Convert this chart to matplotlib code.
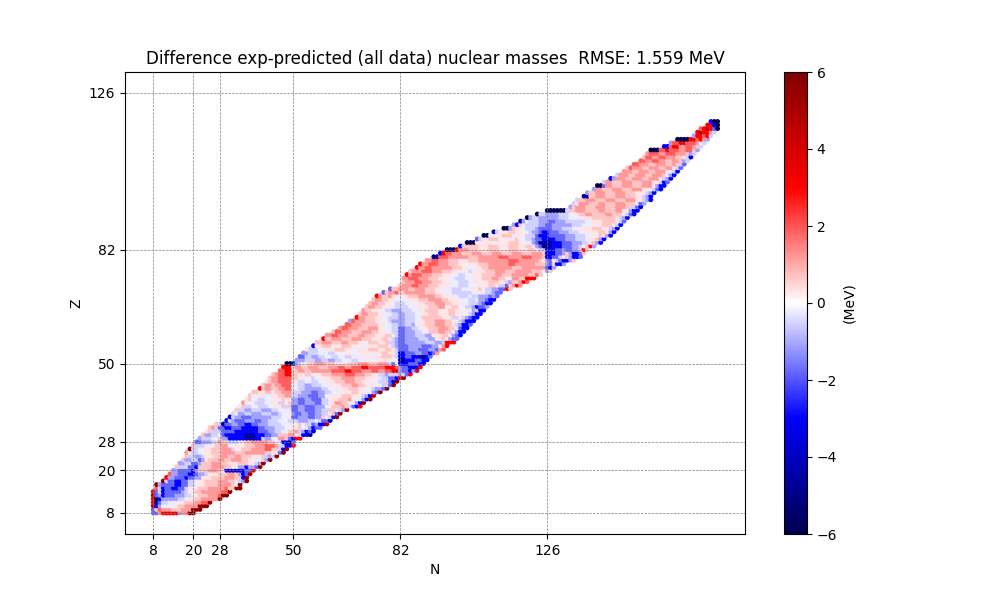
import re
import matplotlib
matplotlib.use("Agg")
import matplotlib.pyplot as plt
import numpy as np

# --- DATA, one row per Z ---
magic = [8, 20, 28, 50, 82, 126]
rmse = 1.559

# colour classes in MeV, a row is written as class + run length
levels = {"A": -6.0, "B": -4.6, "C": -3.0, "D": -1.8, "E": -1.1, "F": -0.55, "G": -0.2, "o": 0.0,
          "g": 0.3, "f": 0.7, "e": 1.2, "d": 1.9, "c": 3.0, "b": 4.6, "a": 5.6}

z_first = 8
n_start = [8, 8, 8, 8, 8, 8, 8, 9, 9, 11, 12, 13, 14, 15, 16, 17, 18, 18, 19, 20, 21, 22, 23, 24, 25, 27, 30,
           31, 32, 33, 34, 35, 36, 37, 38, 40, 41, 42, 43, 44, 46, 47, 48, 51, 52, 53, 54, 56, 57, 59, 60, 62,
           64, 66, 67, 69, 70, 71, 72, 73, 74, 75, 77, 79, 82, 83, 83, 84, 85, 87, 88, 90, 92, 94, 96, 100,
           102, 105, 107, 110, 113, 116, 118, 120, 123, 126, 133, 134, 135, 137, 138, 140, 141, 143, 145,
           147, 149, 150, 152, 154, 155, 156, 157, 161, 163, 165, 170, 171, 172, 174, 175]

rows = [
    "D2e1c5E1e2a2",
    "D1f1d1e3f3e2e1a3",
    "b1C1E1G4g1f2e3e1a3",
    "c1B1D1F2G3g2f3e2d2a1",
    "c1A1C1E2E3F2G1g2f2e3e2a1",
    "b1D1E1C1D3E3F2g2f3e3d1a2",
    "c1D1F1C1D3D2E1F1G2f2e4e2d2a1",
    "d1F1C1D2C2D2F1g3f3e5d1f2a2",
    "a1E1D1D3C2D2F2g3f4e4f1G1a1",
    "a1F1D2C2D2F2G1g2f4e3f2g1F1E1a1",
    "c1E2D3C1D2E2g3f4e3f2C1a1",
    "d1E2D3C2D1E2F1g3f3e2f1E1C1D1a1",
    "E2D2D2C1E1f3e3f1G1C3B1C2D2c1",
    "f1F3D2C1F1f3e4f2g2E2C1E2D1a1",
    "E2F2D2E1f3e3f2g3f3g2F1E1a1",
    "f1E2F2D1E1g1f3e2f2e3f2g2G2f1E1a1",
    "f1F2E2F1g3f2e2f2e2f3g3F2E1F1a1",
    "e1g1F2G2g2f3e4f3e3e3f2g2D1a1",
    "a1F2G2g2f3e3F1g2f3e4d2f2F1C1a1",
    "f1F3G2g1f2e2G2g3f3e3d3e1F2C2c1",
    "D2E3F2e1f2F3G1g1f2e2e3f2G2C2B1D1",
    "E1F3G2f1E2C1C4B3C2F1E2G2e1e1f1D1C1c2",
    "f1E2F2G1D1C3C3B3C3D2E2f3e2g1F1C2B1",
    "g1f1F3D1D3C3C4D3E2F2G2f2e1F1E1C1D1C1",
    "f1e1F1D2C2D3C3C2D2E3F3G2g2f1G2E1C1D2",
    "f1F1B1D2E2D2C2D2E3F4G3g2F1G1F2D1E1C2b1",
    "C1F1E1D3E3D2E2F3G3F3E3F2G1F1D2B1",
    "C1F1E2D3E3E3F3G3D2E3D2E2f1g1F1C1a1",
    "F1G1E2F2E3F3E2F1G3E1D2E2D2E2F2g1f1D1a1",
    "f1F2E2F3E3F2G3g1D2E2D3E2F2f2g1F1E1a1",
    "g1f1F2G2F3G2g2f1F2D2E2D3E3G2f3e1f1F1D1C1c1",
    "e1g1G2F3G2g2F2g1f1E2D2E3D2F2g2e2f2G2E1C1a1",
    "g1f1G2F2G3g2f1g2E2D2E2D3F2g3f3e1g1G2E1C1a1",
    "f1G2g2G2g2f2e2F2E3D3E2G2g3f3g2G1F1E1C1b1",
    "f2g2f2g1f2e3F3E3D2E2F2G3g3f2g2G2E1D1a1",
    "c1f1e2f2e2d2G2F2E2E3F2G3g3f3g2G2F1E2D1a1",
    "f1e2f1e2d3G2F2E2F3G3g3f3e2f2g3G2F2D1a1",
    "g1f1e2d4g2F2G2F2G2g3f3e3f2g3G2F3D1C1a1",
    "f1e2d4f2g2G2F1G2g3f3e4f3g3G2F2D2C1c1a1",
    "f1e1d2c2f2g2f2g3f3e4d3e3f2g2F2E1F3E1F1D1c1",
    "d2c2f2e2f2e3e3d4c2d3e3d2e2d2c2E1D2C1E1c1",
    "c3g1e2f2e3f3e3d2e2d3c2d2d3c3d1E1D2C3c1",
    "A2B1E1F1g2f2e3f3g4f3e3f3e3F1D1G1C3D3C2",
    "E3F3E2F2E2F2G3F2G2g2G2g2g2G2B2C3D2C2",
    "D2F2E2F2G2F2G2F2G2g2G2g3f3g1F1C2D2C2B2C1D1",
    "E2F3G3F2G3g3G2g3G1g2f2g2F1C2D3E2D2C1D1e1",
    "g1F3G2g3f3g2G2g3f3g2f2g1F1D3E3D3E2D1e1d1",
    "C1g2f3g3f3g2G3g3f3g1F1E1D3E4D3E2G1e1c1",
    "f2e3f3e2f3g3f3g2f1F2E1D2E3E3F3E2F1c2c1",
    "c1f2e3f3e3f3g3f2g1F1E1D2E4F3E2g2f1G1E1D2",
    "e2d2e3f3e2f3g3f2G1F1D2E3F3E2g3f2G1E1D1C1",
    "f1d2e3f3e3f2g2G2F2D2E3F2G2f3e2f2G1E1C2",
    "e1d2e3f3e3g2G2F2D2E2F2G1g2f3e3f2G1D1C2",
    "d2e3f3f2g2G2F2E2F2E1G1g2f3e3f2g1F1E1C2D1",
    "E1d1e3f3g2G2F1E2E2F3G1g2f3e3f2g2F1E1C3",
    "c1e2f3g2G2F3E2F3G2f3f3g3F2g1F1E1D1C2",
    "f1e2f3g2G2F2E2F3G2g2f3g3f2g2G2F1E1C2",
    "e1f2g2G2F2E2E1F3G2g2f4g3f2g2G3E1F1C2",
    "f1e2f2g2G2F1F3G3g3f3e2g2f2G2F2E1C1D2E1",
    "f1e2f2g2G1F1F2G3g3f3e3f2g3G2F3E1D1C2",
    "f1e2f2g2G1G3g3f3e4f2g3G3F2G1E2D1C2",
    "c1e1f2e1g1G1g3f3e4e1f2g3G2F3G1F2E2E1D1E1D1",
    "D1f1e2d1f2e3e3f3g3G2F3F3G2g2F2E1D2",
    "D1f2e3f2e3f3g2G3F3G3g2f1G1F2E2D2c1f1",
    "f1e3d2e3f3g3G3F3G3g3f2g1F2D1f1e1c1e1",
    "f1e3d2e3f3g3G2F3G2g4f3g2F1E1f2e1c1d1",
    "e2d3e3f3g3G2F3G2g3f3e2f2g2e2f2c3",
    "c1e1d3e3f3g3G2F2G2g3f4e2f3e2e3f2d1f1",
    "f1e3d3e3f3g3G2F1G2g2f3e3f3e3e2f3G1E1f1",
    "c1e2d2e3e3f3g2G2g2f2e3e4f3e3e3e1D1C1E1",
    "c1e2d3e3f3g2G1g3f3e3e3d2e3e3f3E1D1f1C2E1",
    "e2d2e3f3g3f3e3e3e3d3e3e3f1G1E1D1g1F1D1C2E1f1",
    "B2d1d2e3e3f3e3e3d3e4d3e3f1C2D2F1g1f1E1C2D1",
    "C1c1d2e3f3e3f3e3f3e3f3e3f1C3D2E1f1E1C2D1f1",
    "A3c1e3f3g3f3g3f3g3f2g1F1F1C3D2E1D2E2f1c1f1",
    "C1F1f2f2g3f3g3f3g2f2G1E1D1B3C3D3E2F1G1f1c1E1",
    "A3g2g3G2g3f3g2G2E1D1B4C3D3E3F2g1f1E1C1",
    "D1F1g2f3G2g3f1G2F2E1D2C4D3E3F3G1g2f1E1C1",
    "A2G1g3f3G2g2F2F1D1C3D3D2E3F3G2g2f1g1E1C1",
    "B1F1g3f2g2G2F1E2D1C2D3E3F3G3g3f2g1E1C1",
    "A2E1f1g2G1F2F1E1D2D2E3F3G3g3f3g2F1E1C1",
    "E1C1f1G1F2F2E2D2E3E3F3G3g3f3g1F1C1",
    "B1E1G1F1F2E3D2E3F3F3G2g3f4g1F1D1",
    "A1E1F2E3E3F3G3g2g2f5f2g1F1E1C1",
    "A1F2E2E2F3G3f2e2f4e2f3g1F1D1C1",
    "A6F1f2e3f4e2f3e2g1G1E1C2",
    "E1f1e3f3e3f3e3f2F1D1C1",
    "F1g1e3f3e2f3e3f3G1D1E1",
    "F1f2e3f3e3f3e3g2F1E1C1",
    "B2f2e3f3e3f3g2F1E1C1",
    "E1f2e3f3e3f3g3F1E1C1",
    "E1e2f3e3f3e3g2G1F1D1C1",
    "A2D1e2f3e3f3e3g1E1C1C1",
    "F1e2f3e3f3e3g2F1C1D1",
    "C1E1e3f2e3f2e3g1F1E1C1",
    "F1e3f2e3f2e3f1g1E1C1",
    "e3f2e3f2e3g1G1F1C1",
    "f1d1e3f2e3f2e2g1F1D1",
    "d2e3f2e3f2e1f1F1D1",
    "d2e2d2e2f2e2f1E1F1",
    "f1d2e2d2e3f2g1F1C1",
    "e1d3e2d3e3f1E1F1",
    "A3d2c1d3e2d2f1E1",
    "C2d1c2e2d2e1f1F1",
    "E1d2c2d3e1g1F1",
    "A4c2d1c1e1E1",
    "E1c2d1c1F1",
    "c1b1c2e1F1",
    "d1c1b1c1D1A1",
    "c2C1A1",
    "C1A2",
]

# --- unpack the rows into points ---
n_vals, z_vals, delta_vals = [], [], []
for i, row in enumerate(rows):
    n = n_start[i]
    for code, count in re.findall(r"([A-Za-z])(\d+)", row):
        for _ in range(int(count)):
            n_vals.append(n)
            z_vals.append(z_first + i)
            delta_vals.append(levels[code])
            n += 1

fig = plt.figure(figsize=(10, 6), dpi=100)
sc = plt.scatter(n_vals, z_vals, c=delta_vals, cmap="seismic", vmin=-6, vmax=6, s=6, marker="o")
plt.title(f"Difference exp-predicted (all data) nuclear masses  RMSE: {rmse:.3f} MeV")
plt.xlabel("N")
plt.ylabel("Z")
plt.xticks(magic)
plt.yticks(magic)
plt.xlim(-0.45, 185.2)
plt.ylim(2.1, 131.9)
plt.grid(True, color="gray", linestyle="--", linewidth=0.5)
cbar = plt.colorbar(sc)
cbar.set_label("(MeV)")

plt.savefig("out.png", dpi=100)
